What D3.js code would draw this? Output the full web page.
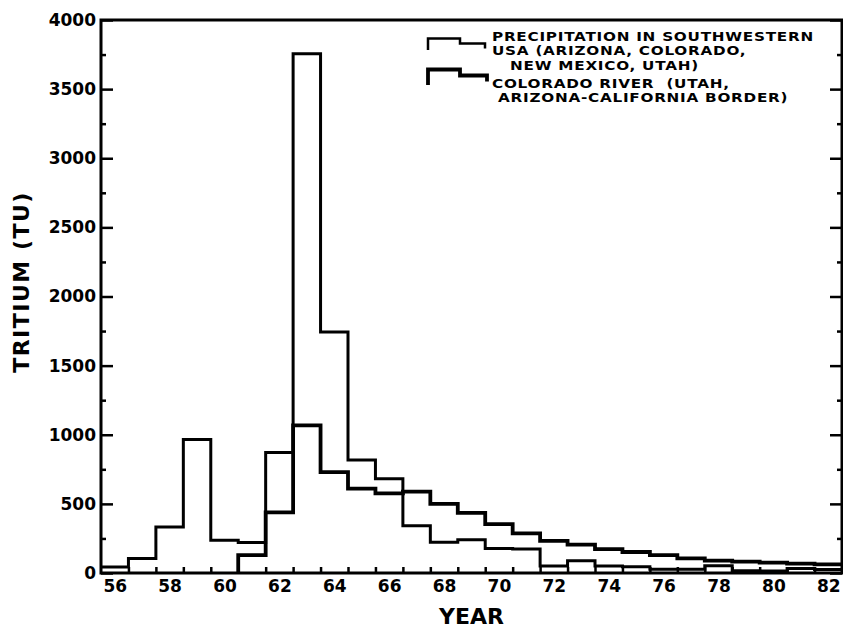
<!DOCTYPE html>
<html>
<head>
<meta charset="utf-8">
<script src="https://cdn.jsdelivr.net/npm/d3@7"></script>
<style>
  body { margin: 0; background: #fff; }
  text { font-family: "DejaVu Sans", sans-serif; font-weight: bold; fill: #000; }
</style>
</head>
<body>
<div class="chart"></div>
<script>
// yearly tritium values (TU)
const precipYears = [56, 57, 58, 59, 60, 61, 62, 63, 64, 65, 66, 67, 68, 69, 70, 71, 72, 73, 74, 75, 76, 77, 78, 79, 80, 81, 82]
const precipitation = [44, 105, 333, 966, 236, 220, 871, 3755, 1743, 817, 681, 342, 223, 240, 177, 173, 50, 88, 50, 45, 28, 28, 52, 16, 14, 33, 25]

const riverYears = [61, 62, 63, 64, 65, 66, 67, 68, 69, 70, 71, 72, 73, 74, 75, 76, 77, 78, 79, 80, 81, 82]
const coloradoRiver = [129, 439, 1068, 729, 610, 576, 588, 500, 435, 354, 287, 233, 205, 172, 152, 130, 106, 90, 83, 75, 68, 62]

const yMajorTicks = [0, 500, 1000, 1500, 2000, 2500, 3000, 3500, 4000]
const yMinorTicks = [250, 750, 1250, 1750, 2250, 2750, 3250, 3750]
const xLabelYears = [56, 58, 60, 62, 64, 66, 68, 70, 72, 74, 76, 78, 80, 82]
const xTickYears = [56.5, 57.5, 58.5, 59.5, 60.5, 61.5, 62.5, 63.5, 64.5, 65.5, 66.5, 67.5, 68.5,
                    69.5, 70.5, 71.5, 72.5, 73.5, 74.5, 75.5, 76.5, 77.5, 78.5, 79.5, 80.5, 81.5]

const legendLines = [
  ['PRECIPITATION IN SOUTHWESTERN', 'USA (ARIZONA, COLORADO,', '   NEW MEXICO, UTAH)'],
  ['COLORADO RIVER  (UTAH,', ' ARIZONA-CALIFORNIA BORDER)']
]

const width = 843
const height = 628
const plot = {left: 101, right: 842, top: 20, bottom: 573}

const svg = d3.select('.chart')
  .append('svg')
  .attr('width', width)
  .attr('height', height)

const x = d3.scaleLinear()
  .domain([55.5, 82.5])
  .range([plot.left, plot.right])

const y = d3.scaleLinear()
  .domain([0, 4000])
  .range([plot.bottom, plot.top])

// step outline: each year occupies year-0.5 .. year+0.5
function stepPoints(years, values, startFromZero) {
  const pts = years.map((yr, i) => [yr - 0.5, values[i]])
  if (startFromZero) pts.unshift([years[0] - 0.5, 0])
  pts.push([years[years.length - 1] + 0.5, values[values.length - 1]])
  return pts
}

const stepLine = d3.line()
  .x(d => x(d[0]))
  .y(d => y(d[1]))
  .curve(d3.curveStepAfter)

// y axis, left (ticks point inward)
const yAxisLeft = svg.append('g')
  .attr('transform', `translate(${plot.left}, 0)`)
  .call(d3.axisLeft(y).tickValues(yMajorTicks).tickFormat(d3.format('d'))
    .tickSizeInner(-12).tickSizeOuter(0).tickPadding(5))
yAxisLeft.select('.domain').remove()
yAxisLeft.selectAll('line').attr('stroke-width', 2.5)
yAxisLeft.selectAll('text').attr('font-size', '17px').attr('font-family', 'DejaVu Sans').attr('font-weight', 'bold')

const yMinorLeft = svg.append('g')
  .attr('transform', `translate(${plot.left}, 0)`)
  .call(d3.axisLeft(y).tickValues(yMinorTicks).tickSize(-5).tickFormat(''))
yMinorLeft.select('.domain').remove()
yMinorLeft.selectAll('line').attr('stroke-width', 2.5)

// y axis, right
const yAxisRight = svg.append('g')
  .attr('transform', `translate(${plot.right}, 0)`)
  .call(d3.axisRight(y).tickValues(yMajorTicks).tickSize(-12).tickFormat(''))
yAxisRight.select('.domain').remove()
yAxisRight.selectAll('line').attr('stroke-width', 2.5)

const yMinorRight = svg.append('g')
  .attr('transform', `translate(${plot.right}, 0)`)
  .call(d3.axisRight(y).tickValues(yMinorTicks).tickSize(-5).tickFormat(''))
yMinorRight.select('.domain').remove()
yMinorRight.selectAll('line').attr('stroke-width', 2.5)

// x axis: ticks at bin edges, labels at even years
const xTicks = svg.append('g')
  .attr('transform', `translate(0, ${plot.bottom})`)
  .call(d3.axisBottom(x).tickValues(xTickYears).tickSize(-6).tickFormat(''))
xTicks.select('.domain').remove()
xTicks.selectAll('line').attr('stroke-width', 2.5)

const xLabels = svg.append('g')
  .attr('transform', `translate(0, ${plot.bottom})`)
  .call(d3.axisBottom(x).tickValues(xLabelYears).tickSize(0).tickPadding(7))
xLabels.select('.domain').remove()
xLabels.selectAll('text').attr('font-size', '17px').attr('font-family', 'DejaVu Sans').attr('font-weight', 'bold')

// frame
svg.append('rect')
  .attr('x', plot.left)
  .attr('y', plot.top)
  .attr('width', plot.right - plot.left)
  .attr('height', plot.bottom - plot.top)
  .attr('fill', 'none')
  .attr('stroke', '#000')
  .attr('stroke-width', 3)

// data
svg.append('path')
  .datum(stepPoints(precipYears, precipitation, false))
  .attr('d', stepLine)
  .attr('fill', 'none')
  .attr('stroke', '#000')
  .attr('stroke-width', 3)

svg.append('path')
  .datum(stepPoints(riverYears, coloradoRiver, true))
  .attr('d', stepLine)
  .attr('fill', 'none')
  .attr('stroke', '#000')
  .attr('stroke-width', 3.8)

// axis titles
svg.append('text')
  .text('YEAR')
  .attr('x', (plot.left + plot.right) / 2)
  .attr('y', 624)
  .attr('text-anchor', 'middle')
  .attr('font-size', '22px')

svg.append('text')
  .text('TRITIUM (TU)')
  .attr('transform', 'translate(29, 282) rotate(-90)')
  .attr('text-anchor', 'middle')
  .attr('font-size', '22px')
  .attr('letter-spacing', '1.5px')

// legend
const legend = svg.append('g').attr('transform', 'translate(428, 0)')

const glyph = d3.line()
legend.append('path')
  .attr('d', glyph([[0, 50], [0, 38.5], [32, 38.5], [32, 43.5], [57, 43.5], [57, 48.5]]))
  .attr('fill', 'none')
  .attr('stroke', '#000')
  .attr('stroke-width', 2.5)

legend.append('path')
  .attr('d', glyph([[0, 85], [0, 69.5], [32, 69.5], [32, 75.5], [59, 75.5], [59, 81.5]]))
  .attr('fill', 'none')
  .attr('stroke', '#000')
  .attr('stroke-width', 3.8)

// original lettering is wide; stretch the text horizontally
const legendBaselines = [[41, 55.3, 70], [87.5, 102]]
legendLines.forEach((lines, i) => {
  lines.forEach((line, j) => {
    legend.append('text')
      .text(line)
      .attr('transform', `translate(64, ${legendBaselines[i][j]}) scale(1.22, 1)`)
      .attr('font-size', '12.5px')
      .attr('letter-spacing', '0.6px')
      .attr('xml:space', 'preserve')
      .style('white-space', 'pre')
  })
})
</script>
</body>
</html>
